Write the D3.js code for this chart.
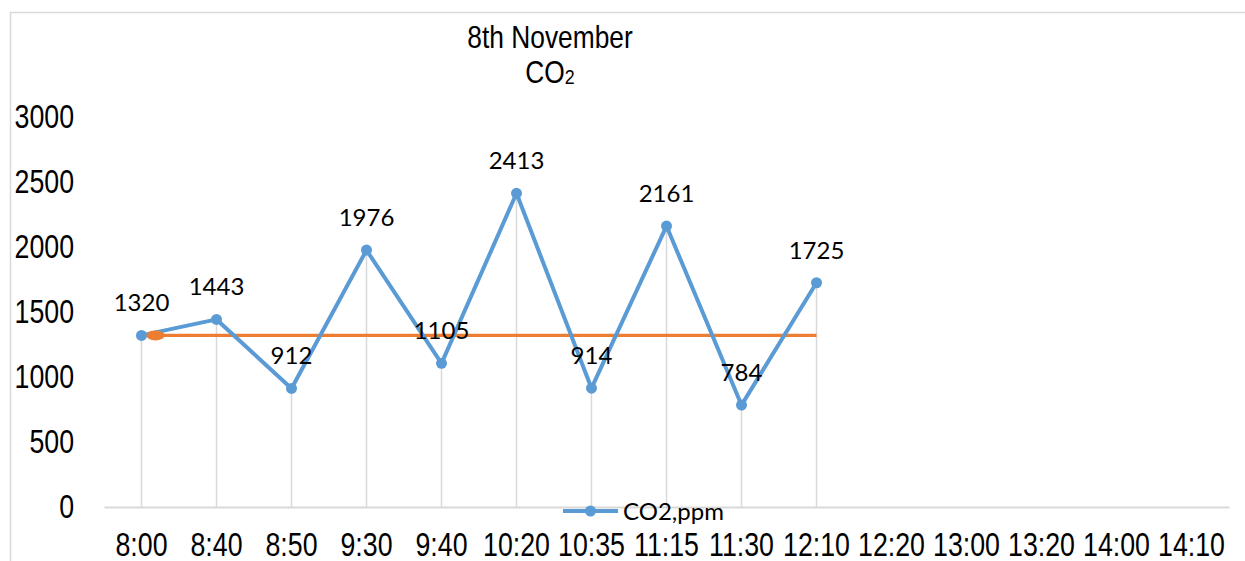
<!DOCTYPE html>
<html>
<head>
<meta charset="utf-8">
<script src="https://cdn.jsdelivr.net/npm/d3@7"></script>
<style>
  body { margin: 0; background: #fff; }
  .tick-label { font-family: "Liberation Sans", Arial, sans-serif; font-size: 33px; fill: #000; }
  .title { font-family: "Liberation Sans", Arial, sans-serif; font-size: 31px; fill: #000; }
  .data-label, .legend-text { font-family: Lato, "Open Sans", sans-serif; font-size: 24px; fill: #000; }
</style>
</head>
<body>
<svg width="1245" height="561"></svg>
<script>
const svg = d3.select('svg');
const width = +svg.attr('width');
const height = +svg.attr('height');

// data
const times = ['8:00', '8:40', '8:50', '9:30', '9:40', '10:20', '10:35', '11:15', '11:30', '12:10',
               '12:20', '13:00', '13:20', '14:00', '14:10'];
const co2 = [1320, 1443, 912, 1976, 1105, 2413, 914, 2161, 784, 1725];
const reference = 1320;
const yTicks = [0, 500, 1000, 1500, 2000, 2500, 3000];
const seriesName = 'CO2,ppm';

const blue = '#5b9bd5';
const orange = '#ed7d31';
const grey = '#d9d9d9';
const narrow = 0.81; // squeeze Liberation Sans to look like Arial Narrow

const margin = {top: 117, right: 16, bottom: 54, left: 104};
const innerWidth = width - margin.left - margin.right;
const innerHeight = height - margin.top - margin.bottom;

// chart frame (only top and left visible in the crop)
svg.append('rect')
    .attr('x', 10.5).attr('y', 12.5)
    .attr('width', width + 20).attr('height', height + 20)
    .attr('fill', 'none')
    .attr('stroke', grey)
    .attr('stroke-width', 1.5);

const xScale = d3.scaleBand()
    .domain(times)
    .range([0, 1125]);

const yScale = d3.scaleLinear()
    .domain([0, 3000])
    .range([innerHeight, 0]);

const g = svg.append('g')
    .attr('transform', `translate(${margin.left},${margin.top})`);

const xc = d => xScale(d) + xScale.bandwidth() / 2;

// y axis labels
const yAxis = d3.axisLeft(yScale).tickValues(yTicks).tickFormat(d3.format('d')).tickSize(0).tickPadding(30);
const yAxisG = g.append('g').call(yAxis);
yAxisG.select('.domain').remove();
yAxisG.attr('font-size', null).attr('font-family', null);
yAxisG.selectAll('text')
    .attr('class', 'tick-label')
    .attr('x', -30 / narrow)
    .attr('transform', `scale(${narrow},1)`);

// x axis
const xAxis = d3.axisBottom(xScale).tickSize(0).tickPadding(26);
const xAxisG = g.append('g')
    .attr('transform', `translate(0,${innerHeight})`)
    .call(xAxis);
xAxisG.attr('font-size', null).attr('font-family', null);
xAxisG.select('.domain').attr('stroke', grey).attr('stroke-width', 2);
xAxisG.selectAll('text')
    .attr('class', 'tick-label')
    .attr('transform', `scale(${narrow},1)`);

const points = co2.map((v, i) => ({t: times[i], v}));

// drop lines
g.selectAll('.drop').data(points).enter().append('line')
    .attr('class', 'drop')
    .attr('x1', d => xc(d.t)).attr('x2', d => xc(d.t))
    .attr('y1', d => yScale(d.v)).attr('y2', yScale(0))
    .attr('stroke', grey).attr('stroke-width', 1.5);

// reference line
g.append('line')
    .attr('x1', xc(times[0])).attr('x2', xc(times[co2.length - 1]))
    .attr('y1', yScale(reference)).attr('y2', yScale(reference))
    .attr('stroke', orange).attr('stroke-width', 3.3);

// series line
const line = d3.line().x(d => xc(d.t)).y(d => yScale(d.v));
g.append('path')
    .attr('d', line(points))
    .attr('fill', 'none')
    .attr('stroke', blue)
    .attr('stroke-width', 4)
    .attr('stroke-linejoin', 'round');

g.selectAll('.dot').data(points).enter().append('circle')
    .attr('cx', d => xc(d.t)).attr('cy', d => yScale(d.v))
    .attr('r', 5.5).attr('fill', blue);

// orange marker
g.append('ellipse')
    .attr('cx', xc(times[0]) + 14).attr('cy', yScale(reference))
    .attr('rx', 9).attr('ry', 5).attr('fill', orange);

// data labels
g.selectAll('.data-label').data(points).enter().append('text')
    .attr('class', 'data-label')
    .attr('x', d => xc(d.t))
    .attr('y', d => yScale(d.v) - 24)
    .attr('text-anchor', 'middle')
    .text(d => d.v);

// title
const titleScale = 0.85;
const titleG = svg.append('g').attr('transform', `translate(550,0) scale(${titleScale},1)`);
titleG.append('text').attr('class', 'title').attr('text-anchor', 'middle')
    .attr('x', 0).attr('y', 48).text('8th November');
const t2 = titleG.append('text').attr('class', 'title').attr('text-anchor', 'middle')
    .attr('x', 0).attr('y', 83);
t2.append('tspan').text('CO');
t2.append('tspan').attr('font-size', 21).attr('dy', 1).text('2');

// legend
const lg = svg.append('g').attr('transform', `translate(563,${margin.top + innerHeight + 4})`);
lg.append('line').attr('x1', 0).attr('x2', 55).attr('y1', 0).attr('y2', 0)
    .attr('stroke', blue).attr('stroke-width', 4);
lg.append('circle').attr('cx', 27.5).attr('cy', 0).attr('r', 5.5).attr('fill', blue);
lg.append('text').attr('class', 'legend-text').attr('x', 60).attr('y', 9).text(seriesName);
</script>
</body>
</html>
